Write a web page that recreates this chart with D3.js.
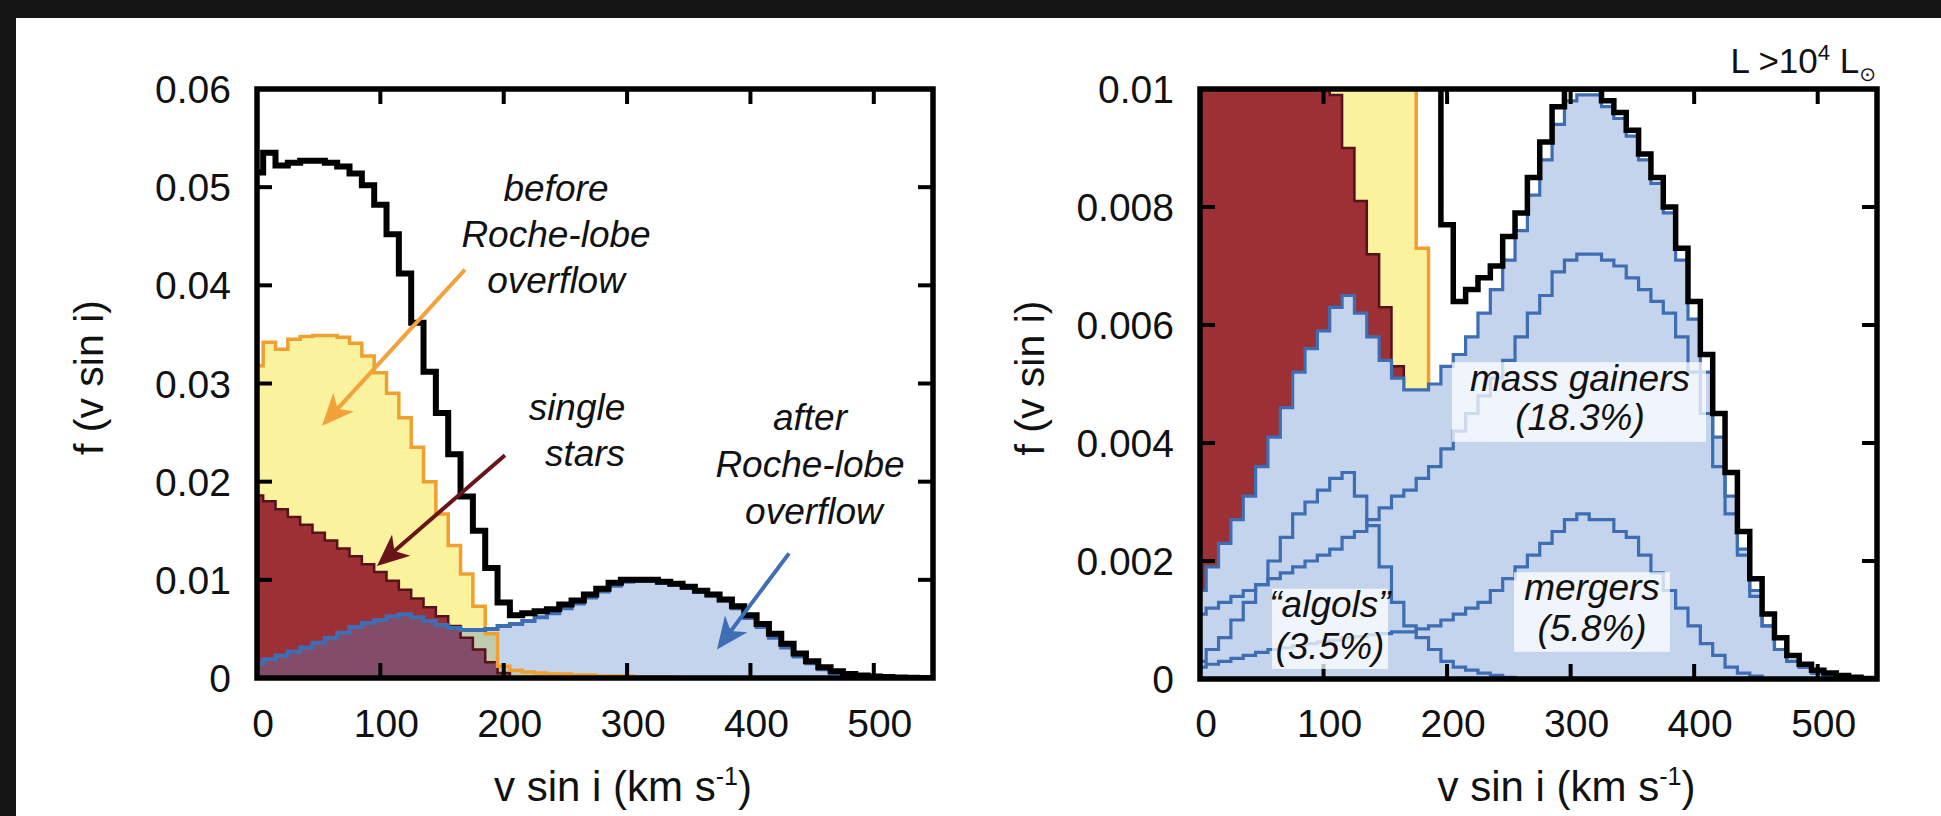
<!DOCTYPE html>
<html><head><meta charset="utf-8">
<script src="https://cdn.jsdelivr.net/npm/d3@7"></script>
<style>html,body{margin:0;padding:0;background:#fff;overflow:hidden}svg{display:block}</style>
</head><body>
<svg id="chart" width="1941" height="816"></svg>
<script>
// ---------------- data (bin centres in km/s, histogram values f(v sin i)) ----------------
const vsini = [0,10,20,30,40,50,60,70,80,90,100,110,120,130,140,150,160,170,180,190,200,210,220,230,240,250,260,270,280,290,300,310,320,330,340,350,360,370,380,390,400,410,420,430,440,450,460,470,480,490,500,510,520,530,540];
const total = [0.0515,0.0535,0.0522,0.0525,0.0527,0.0527,0.0525,0.0521,0.0514,0.0502,
  0.0482,0.0452,0.0412,0.0362,0.0312,0.0270,0.0228,0.0185,0.0150,0.0112,
  0.0077,0.0064,0.0066,0.0068,0.0070,0.0075,0.0079,0.0085,0.0091,0.0097,
  0.0100,0.0100,0.0100,0.0098,0.0096,0.0093,0.0089,0.0085,0.0080,0.0073,
  0.0064,0.0055,0.0045,0.0035,0.0025,0.0017,0.0011,0.0007,0.0004,0.00025,
  0.00015,0.0001,0.00006,0.00003,0.00001];
const singleStars = [0.0186,0.0180,0.0172,0.0164,0.0156,0.0148,0.0140,0.0132,0.0124,0.0116,
  0.0108,0.0099,0.0090,0.0081,0.0072,0.0063,0.0053,0.0041,0.0029,0.0016,
  0.0005,0,0,0,0,0,0,0,0,0,
  0,0,0,0,0,0,0,0,0,0,
  0,0,0,0,0,0,0,0,0,0,
  0,0,0,0,0];
const beforeRLOF = [0.0318,0.0342,0.0335,0.0345,0.0348,0.0349,0.0349,0.0347,0.0341,0.0328,
  0.0311,0.0290,0.0265,0.0235,0.0200,0.0167,0.0135,0.0106,0.0073,0.0045,
  0.0012,0.0008,0.0006,0.0005,0.0004,0.0004,0.0003,0.0003,0.0002,0.0002,
  0.0002,0.0001,0.0001,0.0001,0.00005,0.00003,0.00002,0.00001,0,0,
  0,0,0,0,0,0,0,0,0,0,
  0,0,0,0,0];
const afterRLOF = [0.0015,0.0019,0.0023,0.0027,0.0031,0.0036,0.0041,0.0046,0.0052,0.0056,
  0.0059,0.0063,0.0065,0.0062,0.0058,0.0054,0.0051,0.0049,0.0049,0.0050,
  0.0053,0.0055,0.0058,0.0062,0.0066,0.0071,0.0076,0.0082,0.0088,0.0094,
  0.0098,0.0099,0.0099,0.0097,0.0095,0.0092,0.0088,0.0084,0.0079,0.0071,
  0.0061,0.0052,0.0041,0.0031,0.0022,0.0015,0.0009,0.0005,0.0003,0.0002,
  0.0001,0.00005,0.00002,0.00001,0];
const massGainers = [0.0011,0.0012,0.0013,0.0014,0.0015,0.0016,0.0017,0.0018,0.0019,0.0020,
  0.0021,0.0022,0.0024,0.0025,0.0027,0.0029,0.0031,0.0032,0.0034,0.0036,
  0.0039,0.0042,0.0045,0.0048,0.0051,0.0054,0.0058,0.0062,0.0065,0.0069,
  0.0071,0.0072,0.0072,0.0071,0.0070,0.0068,0.0066,0.0064,0.0062,0.0058,
  0.0052,0.0045,0.0036,0.0028,0.0021,0.0014,0.0009,0.0005,0.0003,0.0002,
  0.0001,0.00005,0,0,0];
const algols = [0.0003,0.0005,0.0007,0.0010,0.0013,0.0016,0.0020,0.0024,0.0028,0.0030,
  0.0032,0.0034,0.0035,0.0031,0.0026,0.0019,0.0013,0.0009,0.0007,0.0005,
  0.0003,0.0002,0.00015,0.0001,0.00006,0.00003,0,0,0,0,
  0,0,0,0,0,0,0,0,0,0,
  0,0,0,0,0,0,0,0,0,0,
  0,0,0,0,0];
const mergers = [0.0002,0.00025,0.0003,0.00035,0.0004,0.00045,0.0005,0.00053,0.00056,0.0006,
  0.00063,0.00066,0.0007,0.00072,0.00075,0.00077,0.0008,0.0008,0.00085,0.0009,
  0.0010,0.0011,0.0012,0.0013,0.0015,0.0017,0.0019,0.0021,0.0023,0.0025,
  0.0027,0.0028,0.0027,0.0027,0.0025,0.0024,0.0021,0.0018,0.0015,0.0012,
  0.0009,0.0006,0.0004,0.0002,0.0001,0.00005,0,0,0,0,
  0,0,0,0,0];
const xTicks = [0,100,200,300,400,500];
const xTickLabels = ["0","100","200","300","400","500"];
const yTicksLeft = [0,0.01,0.02,0.03,0.04,0.05,0.06];
const yTickLabelsLeft = ["0","0.01","0.02","0.03","0.04","0.05","0.06"];
const yTicksRight = [0,0.002,0.004,0.006,0.008,0.01];
const yTickLabelsRight = ["0","0.002","0.004","0.006","0.008","0.01"];

// ---------------- drawing ----------------
const W = 1941, H = 816;
const FONT = '"Liberation Sans", Arial, Helvetica, sans-serif';
const svg = d3.select('#chart');
svg.append('rect').attr('width', W).attr('height', H).attr('fill', '#151515');
svg.append('rect').attr('x', 16).attr('y', 18).attr('width', W - 16).attr('height', H - 18).attr('fill', '#fff');

const C = {
  yellow: '#fbf29e', orange: '#f0a030', red: '#9c3035', redEdge: '#55121a',
  blueFill: '#c4d4ed', blueLine: '#3d6db3', black: '#000'
};

function panel(cfg) {
  const g = svg.append('g');
  const x = d3.scaleLinear().domain([0, 548]).range([cfg.left, cfg.right]);
  const y = d3.scaleLinear().domain([0, cfg.ymax]).range([cfg.bottom, cfg.top]);
  const clipId = cfg.id + '-clip';
  svg.append('clipPath').attr('id', clipId).append('rect')
    .attr('x', cfg.left).attr('y', cfg.top)
    .attr('width', cfg.right - cfg.left).attr('height', cfg.bottom - cfg.top);
  const plot = g.append('g').attr('clip-path', `url(#${clipId})`);
  const pts = arr => arr.map((f, i) => ({ v: vsini[i], f }));
  const ptsExt = arr => { const p = pts(arr); p.push({ v: 548, f: arr[arr.length - 1] }); return p; };
  const area = d3.area().x(d => x(d.v)).y0(y(0)).y1(d => y(d.f)).curve(d3.curveStep);
  const line = d3.line().x(d => x(d.v)).y(d => y(d.f)).curve(d3.curveStep);

  plot.append('path').attr('d', area(pts(beforeRLOF))).attr('fill', C.yellow);
  plot.append('path').attr('d', area(pts(singleStars))).attr('fill', C.red);
  const drawRedOrange = () => {
    plot.append('path').attr('d', line(pts(singleStars))).attr('fill', 'none').attr('stroke', C.redEdge).attr('stroke-width', 2.5);
    plot.append('path').attr('d', line(ptsExt(beforeRLOF))).attr('fill', 'none').attr('stroke', C.orange).attr('stroke-width', 3.5);
  };
  if (cfg.transparentBlue) {
    plot.append('path').attr('d', area(pts(afterRLOF))).attr('fill', 'rgb(86,132,204)').attr('fill-opacity', 0.35);
    drawRedOrange();
  } else {
    drawRedOrange();
    plot.append('path').attr('d', area(pts(afterRLOF))).attr('fill', C.blueFill);
  }
  if (cfg.components) {
    [mergers, algols, massGainers].forEach(s => {
      plot.append('path').attr('d', line(ptsExt(s))).attr('fill', 'none').attr('stroke', C.blueLine).attr('stroke-width', 3.2);
    });
  }
  plot.append('path').attr('d', line(ptsExt(afterRLOF))).attr('fill', 'none').attr('stroke', C.blueLine).attr('stroke-width', cfg.components ? 3.2 : 4);
  plot.append('path').attr('d', line(ptsExt(total))).attr('fill', 'none').attr('stroke', C.black).attr('stroke-width', cfg.components ? 5.5 : 6);

  // frame + mirrored inward ticks
  const axes = g.append('g');
  const tl = 15;
  xTicks.forEach(t => {
    axes.append('line').attr('x1', x(t)).attr('x2', x(t)).attr('y1', cfg.bottom).attr('y2', cfg.bottom - tl).attr('stroke', '#000').attr('stroke-width', 4);
    axes.append('line').attr('x1', x(t)).attr('x2', x(t)).attr('y1', cfg.top).attr('y2', cfg.top + tl).attr('stroke', '#000').attr('stroke-width', 4);
  });
  cfg.yTicks.forEach(t => {
    axes.append('line').attr('x1', cfg.left).attr('x2', cfg.left + tl).attr('y1', y(t)).attr('y2', y(t)).attr('stroke', '#000').attr('stroke-width', 4);
    axes.append('line').attr('x1', cfg.right).attr('x2', cfg.right - tl).attr('y1', y(t)).attr('y2', y(t)).attr('stroke', '#000').attr('stroke-width', 4);
  });
  axes.append('rect').attr('x', cfg.left).attr('y', cfg.top)
    .attr('width', cfg.right - cfg.left).attr('height', cfg.bottom - cfg.top)
    .attr('fill', 'none').attr('stroke', '#000').attr('stroke-width', 5.5);

  // tick labels
  xTicks.forEach((t, i) => {
    g.append('text').attr('x', x(t) + 6).attr('y', 737).attr('text-anchor', 'middle')
      .attr('font-family', FONT).attr('font-size', 39).attr('fill', '#111').text(xTickLabels[i]);
  });
  cfg.yTicks.forEach((t, i) => {
    g.append('text').attr('x', cfg.left - 26).attr('y', y(t) + 14).attr('text-anchor', 'end')
      .attr('font-family', FONT).attr('font-size', 39).attr('fill', '#111').text(cfg.yLabels[i]);
  });
  // axis titles
  g.append('text').attr('transform', `translate(${cfg.yTitleX},${(cfg.top + cfg.bottom) / 2 - 6}) rotate(-90)`)
    .attr('text-anchor', 'middle').attr('dy', '0.35em')
    .attr('font-family', FONT).attr('font-size', 41).attr('fill', '#111').text('f (v sin i)');
  const xt = g.append('text').attr('x', (cfg.left + cfg.right) / 2 + 28).attr('y', 801).attr('text-anchor', 'middle')
    .attr('font-family', FONT).attr('font-size', 42).attr('fill', '#111');
  xt.append('tspan').text('v sin i (km s');
  xt.append('tspan').attr('font-size', 25).attr('dy', -16).text('-1');
  xt.append('tspan').attr('dy', 16).text(')');
  return { g, x, y };
}

const L = panel({ id: 'left', left: 257, right: 933, top: 89, bottom: 678, ymax: 0.06,
  yTicks: yTicksLeft, yLabels: yTickLabelsLeft, yTitleX: 89, transparentBlue: true, components: false });
const R = panel({ id: 'right', left: 1200, right: 1877, top: 89, bottom: 679, ymax: 0.01,
  yTicks: yTicksRight, yLabels: yTickLabelsRight, yTitleX: 1030, transparentBlue: false, components: true });

// ---------------- annotations (left panel, data coordinates) ----------------
function arrow(p, v1, f1, v2, f2, color) {
  const x1 = p.x(v1), y1 = p.y(f1), x2 = p.x(v2), y2 = p.y(f2);
  const dx = x2 - x1, dy = y2 - y1, len = Math.hypot(dx, dy), ux = dx / len, uy = dy / len, nx = -uy, ny = ux;
  const hl = 32, hw = 14;
  const bx = x2 - ux * hl, by = y2 - uy * hl;
  p.g.append('line').attr('x1', x1).attr('y1', y1).attr('x2', x2 - ux * hl * 0.6).attr('y2', y2 - uy * hl * 0.6)
    .attr('stroke', color).attr('stroke-width', 4);
  p.g.append('path')
    .attr('d', `M${x2},${y2}L${bx + nx * hw},${by + ny * hw}L${x2 - ux * hl * 0.72},${y2 - uy * hl * 0.72}L${bx - nx * hw},${by - ny * hw}Z`)
    .attr('fill', color);
}
function label(p, v, f, txt, size) {
  p.g.append('text').attr('x', p.x(v)).attr('y', p.y(f)).attr('text-anchor', 'middle')
    .attr('font-family', FONT).attr('font-style', 'italic').attr('font-size', size || 37).attr('fill', '#111').text(txt);
}
arrow(L, 168.6, 0.0416, 52.7, 0.0257, '#f2a238');
arrow(L, 201.0, 0.0227, 97.3, 0.0114, '#6b1418');
arrow(L, 431.3, 0.0127, 372.9, 0.0029, '#3e6fb6');
label(L, 242.4, 0.0486, 'before');
label(L, 242.4, 0.0439, 'Roche-lobe');
label(L, 242.4, 0.0392, 'overflow');
label(L, 259.4, 0.0263, 'single');
label(L, 265.9, 0.0216, 'stars');
label(L, 448.3, 0.0253, 'after');
label(L, 448.3, 0.0205, 'Roche-lobe');
label(L, 451.5, 0.0157, 'overflow');

// ---------------- annotations (right panel) ----------------
function box(p, v1, v2, f1, f2) {
  p.g.append('rect').attr('x', p.x(v1)).attr('y', p.y(f2)).attr('width', p.x(v2) - p.x(v1)).attr('height', p.y(f1) - p.y(f2))
    .attr('fill', '#fff').attr('fill-opacity', 0.75);
}
box(R, 204, 409.6, 0.00402, 0.00537);
label(R, 307.6, 0.00488, 'mass gainers');
label(R, 307.6, 0.00422, '(18.3%)');
box(R, 58.3, 152.2, 0.00017, 0.00153);
label(R, 105.2, 0.00105, '\u201calgols\u201d');
label(R, 105.2, 0.00034, '(3.5%)');
box(R, 254.2, 380.4, 0.00046, 0.00181);
label(R, 317.3, 0.00134, 'mergers');
label(R, 317.3, 0.00064, '(5.8%)');

// luminosity tag
const lt = svg.append('text').attr('x', 1876).attr('y', 73).attr('text-anchor', 'end')
  .attr('font-family', FONT).attr('font-size', 35).attr('fill', '#111');
lt.append('tspan').text('L >10');
lt.append('tspan').attr('font-size', 22).attr('dy', -13).text('4');
lt.append('tspan').attr('dy', 13).text(' L');
lt.append('tspan').attr('font-family', '"DejaVu Sans", sans-serif').attr('font-size', 20).attr('dy', 8).text('\u2299');
</script>
</body></html>
